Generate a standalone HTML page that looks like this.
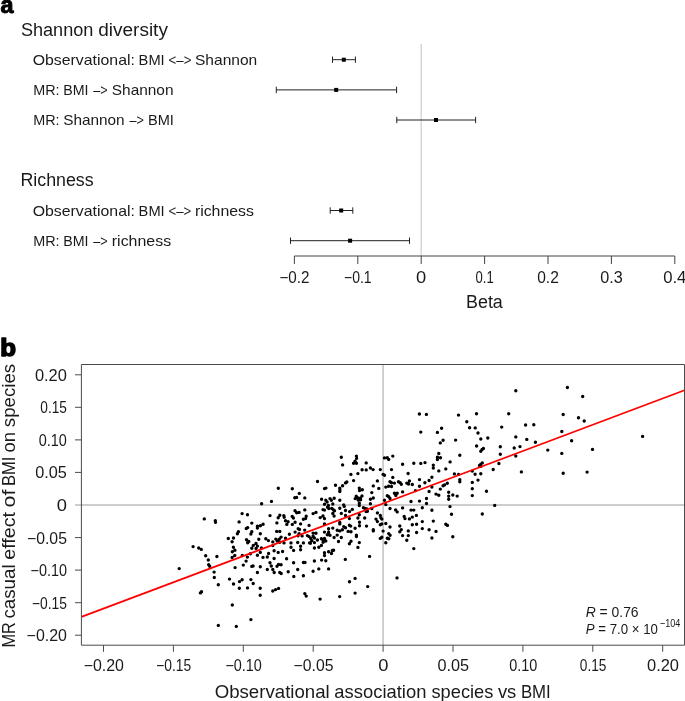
<!DOCTYPE html>
<html lang="en"><head><meta charset="utf-8"><title>Figure</title>
<style>
html,body{margin:0;padding:0;background:#fff}
svg{display:block}
text{font-family:"Liberation Sans",Arial,Helvetica,sans-serif;fill:#1a1a1a}
</style></head>
<body>
<svg width="685" height="701" viewBox="0 0 685 701">
<rect width="685" height="701" fill="#fff"/>
<text x="0.5" y="13.3" font-size="24" text-anchor="start" font-weight="bold" textLength="13.0" lengthAdjust="spacingAndGlyphs" style="fill:#000;stroke:#000;stroke-width:1.0;stroke-linejoin:round">a</text>
<text x="0.3" y="355.8" font-size="23.6" text-anchor="start" font-weight="bold" textLength="15.8" lengthAdjust="spacingAndGlyphs" style="fill:#000;stroke:#000;stroke-width:1.5;stroke-linejoin:round">b</text>
<text y="35.7" font-size="18"><tspan x="20.9" textLength="72.5" lengthAdjust="spacingAndGlyphs">Shannon</tspan> <tspan x="98.2" textLength="69.7" lengthAdjust="spacingAndGlyphs">diversity</tspan></text>
<text x="20.4" y="186.2" font-size="18" text-anchor="start" textLength="73.3" lengthAdjust="spacingAndGlyphs">Richness</text>
<text y="65.3" font-size="15"><tspan x="32.7" textLength="102.2" lengthAdjust="spacingAndGlyphs">Observational:</tspan> <tspan x="138.6" textLength="26.1" lengthAdjust="spacingAndGlyphs">BMI</tspan> <tspan x="168.6" textLength="22.8" lengthAdjust="spacingAndGlyphs">&lt;–&gt;</tspan> <tspan x="195.0" textLength="62.2" lengthAdjust="spacingAndGlyphs">Shannon</tspan></text>
<text y="95.4" font-size="15"><tspan x="33.2" textLength="26.4" lengthAdjust="spacingAndGlyphs">MR:</tspan> <tspan x="63.2" textLength="25.3" lengthAdjust="spacingAndGlyphs">BMI</tspan> <tspan x="93.2" textLength="14.5" lengthAdjust="spacingAndGlyphs">–&gt;</tspan> <tspan x="111.8" textLength="61.7" lengthAdjust="spacingAndGlyphs">Shannon</tspan></text>
<text y="125.3" font-size="15"><tspan x="33.2" textLength="26.4" lengthAdjust="spacingAndGlyphs">MR:</tspan> <tspan x="63.2" textLength="61.4" lengthAdjust="spacingAndGlyphs">Shannon</tspan> <tspan x="129.4" textLength="14.5" lengthAdjust="spacingAndGlyphs">–&gt;</tspan> <tspan x="148.0" textLength="25.9" lengthAdjust="spacingAndGlyphs">BMI</tspan></text>
<text y="216.3" font-size="15"><tspan x="32.7" textLength="102.2" lengthAdjust="spacingAndGlyphs">Observational:</tspan> <tspan x="138.6" textLength="26.1" lengthAdjust="spacingAndGlyphs">BMI</tspan> <tspan x="168.5" textLength="22.8" lengthAdjust="spacingAndGlyphs">&lt;–&gt;</tspan> <tspan x="194.9" textLength="59.0" lengthAdjust="spacingAndGlyphs">richness</tspan></text>
<text y="246.3" font-size="15"><tspan x="33.2" textLength="26.4" lengthAdjust="spacingAndGlyphs">MR:</tspan> <tspan x="63.2" textLength="25.3" lengthAdjust="spacingAndGlyphs">BMI</tspan> <tspan x="93.2" textLength="14.5" lengthAdjust="spacingAndGlyphs">–&gt;</tspan> <tspan x="111.8" textLength="59.3" lengthAdjust="spacingAndGlyphs">richness</tspan></text>
<line x1="421.2" y1="44" x2="421.2" y2="256" stroke="#d0d0d0" stroke-width="1.3"/>
<path d="M332.5 59.7H355.4M332.5 56.5V62.900000000000006M355.4 56.5V62.900000000000006" stroke="#222" stroke-width="1" fill="none"/>
<rect x="341.8" y="57.7" width="4" height="4" fill="#000"/>
<path d="M276.3 89.9H396.6M276.3 86.7V93.10000000000001M396.6 86.7V93.10000000000001" stroke="#222" stroke-width="1" fill="none"/>
<rect x="334.2" y="87.9" width="4" height="4" fill="#000"/>
<path d="M396.8 120.0H475.6M396.8 116.8V123.2M475.6 116.8V123.2" stroke="#222" stroke-width="1" fill="none"/>
<rect x="434.0" y="118.0" width="4" height="4" fill="#000"/>
<path d="M330.2 210.5H352.8M330.2 207.3V213.7M352.8 207.3V213.7" stroke="#222" stroke-width="1" fill="none"/>
<rect x="339.2" y="208.5" width="4" height="4" fill="#000"/>
<path d="M290.5 240.7H409.5M290.5 237.5V243.89999999999998M409.5 237.5V243.89999999999998" stroke="#222" stroke-width="1" fill="none"/>
<rect x="348.1" y="238.7" width="4" height="4" fill="#000"/>
<path d="M294.4 256H674.8M294.4 256V264M357.8 256V264M421.2 256V264M484.6 256V264M548.0 256V264M611.4 256V264M674.8 256V264" stroke="#444" stroke-width="1" fill="none"/>
<text x="294.4" y="283.0" font-size="16" text-anchor="middle" textLength="30.0" lengthAdjust="spacingAndGlyphs">−0.2</text>
<text x="357.8" y="283.0" font-size="16" text-anchor="middle" textLength="27.6" lengthAdjust="spacingAndGlyphs">−0.1</text>
<text x="421.2" y="283.0" font-size="16" text-anchor="middle" textLength="10.2" lengthAdjust="spacingAndGlyphs">0</text>
<text x="484.6" y="283.0" font-size="16" text-anchor="middle" textLength="18.2" lengthAdjust="spacingAndGlyphs">0.1</text>
<text x="548.0" y="283.0" font-size="16" text-anchor="middle" textLength="21.6" lengthAdjust="spacingAndGlyphs">0.2</text>
<text x="611.4" y="283.0" font-size="16" text-anchor="middle" textLength="22.5" lengthAdjust="spacingAndGlyphs">0.3</text>
<text x="674.8" y="283.0" font-size="16" text-anchor="middle" textLength="23.2" lengthAdjust="spacingAndGlyphs">0.4</text>
<text x="484.4" y="308.3" font-size="18" text-anchor="middle" textLength="36.8" lengthAdjust="spacingAndGlyphs">Beta</text>
<path d="M383.1 364.5V645.2M75.0 505.0H684.5" stroke="#bdbdbd" stroke-width="1.4" fill="none"/>
<path d="M204.3 518.9h0M215.3 520.8h0M215.5 522.2h0M242.1 513.6h0M247.5 514.7h0M239.1 521.9h0M246.3 528.5h0M247.7 527.6h0M238.4 531.8h0M237.4 533.8h0M228.3 538.5h0M233.5 538.0h0M232.1 541.8h0M246.5 539.7h0M248.8 541.5h0M247.7 542.7h0M193.1 546.6h0M198.7 548.0h0M201.3 549.4h0M233.4 547.3h0M234.9 550.2h0M232.3 551.8h0M205.7 555.8h0M216.9 556.5h0M234.8 555.5h0M232.1 557.4h0M242.3 555.5h0M208.3 560.0h0M247.4 557.1h0M246.1 561.1h0M208.7 564.8h0M209.7 566.2h0M243.3 565.1h0M235.1 567.6h0M179.2 568.6h0M214.1 572.1h0M214.3 577.5h0M229.5 579.1h0M239.5 581.6h0M242.1 579.8h0M233.5 584.0h0M218.3 584.7h0M239.3 588.2h0M247.5 587.9h0M200.4 592.9h0M201.5 591.7h0M232.3 605.0h0M218.3 625.4h0M236.3 626.4h0M278.3 488.2h0M292.3 488.8h0M299.3 493.4h0M294.8 497.7h0M296.6 497.4h0M304.8 497.9h0M271.5 501.4h0M261.6 503.8h0M304.8 509.9h0M295.0 510.8h0M296.7 512.7h0M299.1 512.4h0M270.0 515.6h0M279.8 515.2h0M278.2 517.7h0M283.8 515.6h0M284.2 517.3h0M292.2 516.4h0M293.4 518.0h0M306.2 516.2h0M305.6 518.6h0M303.4 519.2h0M317.5 481.5h0M350.9 474.4h0M357.9 473.6h0M353.6 480.6h0M345.5 482.9h0M346.8 482.0h0M335.5 485.3h0M342.6 485.8h0M324.5 488.6h0M325.9 488.1h0M339.8 488.2h0M339.9 490.0h0M339.8 491.5h0M359.3 488.1h0M359.5 490.6h0M362.3 489.7h0M362.0 496.0h0M356.2 496.3h0M355.2 498.6h0M358.0 497.9h0M360.4 498.2h0M358.2 500.0h0M360.6 499.8h0M321.6 499.3h0M325.8 500.2h0M327.1 502.0h0M330.0 498.6h0M331.3 500.2h0M334.2 498.3h0M339.8 500.2h0M324.5 504.2h0M332.8 504.0h0M343.7 504.9h0M344.2 506.4h0M359.3 503.3h0M359.3 505.5h0M328.4 505.5h0M327.5 507.2h0M328.8 508.5h0M331.9 508.5h0M333.6 509.9h0M334.5 510.7h0M323.0 509.6h0M324.5 510.1h0M339.8 508.3h0M345.5 510.5h0M352.3 509.4h0M349.6 511.6h0M363.4 507.7h0M365.2 508.5h0M366.9 509.0h0M366.1 511.6h0M367.4 511.2h0M316.0 512.4h0M313.1 513.6h0M332.8 513.4h0M341.3 513.4h0M334.1 516.0h0M345.5 515.4h0M359.3 514.7h0M323.0 516.0h0M320.2 517.6h0M324.5 518.6h0M349.4 518.6h0M357.9 518.0h0M364.7 518.0h0M251.8 523.1h0M257.4 526.1h0M257.4 528.1h0M260.3 525.7h0M263.1 524.2h0M276.9 522.9h0M285.5 520.7h0M288.1 521.8h0M286.8 524.4h0M292.3 524.4h0M295.1 522.2h0M300.6 523.9h0M309.1 525.4h0M251.8 531.8h0M250.9 534.0h0M260.3 533.8h0M276.7 531.4h0M279.8 531.4h0M298.2 528.8h0M299.5 529.5h0M304.7 530.1h0M295.1 532.1h0M289.4 534.2h0M299.1 533.6h0M298.0 535.8h0M302.1 535.9h0M307.4 535.6h0M309.1 536.6h0M258.8 539.3h0M265.8 538.8h0M268.4 540.6h0M281.1 537.1h0M275.8 539.1h0M279.3 539.1h0M277.2 541.0h0M285.5 538.2h0M272.8 541.9h0M279.8 542.3h0M284.0 542.9h0M291.0 542.9h0M297.7 542.5h0M303.4 542.9h0M309.6 542.9h0M256.0 543.5h0M253.3 545.4h0M257.4 546.1h0M251.8 548.2h0M256.1 548.5h0M261.4 548.0h0M272.8 545.6h0M291.0 547.2h0M300.6 546.3h0M300.6 549.8h0M293.6 550.4h0M274.1 550.8h0M278.2 552.4h0M282.6 551.5h0M260.3 552.4h0M268.6 553.5h0M257.4 555.3h0M250.4 553.7h0M263.0 557.4h0M267.3 557.0h0M274.1 558.5h0M286.6 558.8h0M270.0 562.7h0M293.6 562.7h0M303.4 562.5h0M305.0 562.5h0M253.1 566.0h0M251.8 566.4h0M260.3 566.7h0M271.3 566.0h0M278.5 564.5h0M277.0 566.2h0M281.1 564.8h0M267.3 569.5h0M272.8 569.5h0M297.7 569.5h0M339.8 522.5h0M339.8 523.9h0M324.5 523.9h0M359.5 522.2h0M359.5 525.7h0M349.4 525.3h0M350.7 526.1h0M366.5 526.1h0M343.7 526.6h0M345.5 527.7h0M355.1 528.3h0M332.8 528.1h0M328.6 528.8h0M337.2 530.3h0M339.8 530.9h0M342.4 529.8h0M348.1 531.4h0M351.0 531.8h0M324.5 532.1h0M328.6 532.3h0M313.1 533.1h0M316.0 533.3h0M327.3 534.7h0M330.0 535.3h0M337.2 535.1h0M356.4 535.3h0M356.4 536.6h0M313.1 536.2h0M314.4 538.0h0M310.9 538.8h0M311.8 540.6h0M310.4 543.2h0M317.4 540.0h0M321.4 538.8h0M324.5 538.4h0M323.1 540.6h0M325.8 541.0h0M323.1 542.3h0M334.1 537.5h0M341.3 537.5h0M338.5 541.5h0M351.0 541.2h0M349.4 543.8h0M359.3 542.6h0M314.4 542.6h0M321.4 545.4h0M318.8 547.3h0M314.4 548.0h0M357.9 547.4h0M333.6 550.2h0M332.3 550.5h0M328.6 551.7h0M331.5 553.5h0M324.5 552.8h0M324.5 555.5h0M369.6 556.4h0M345.3 559.4h0M314.4 561.0h0M321.6 560.1h0M325.8 560.7h0M318.8 568.9h0M328.6 568.9h0M341.3 457.2h0M342.6 464.9h0M356.4 456.1h0M356.6 458.3h0M355.1 461.2h0M353.6 463.2h0M356.4 463.2h0M366.2 462.9h0M362.1 469.8h0M366.2 469.9h0M420.8 432.1h0M392.8 456.1h0M384.5 457.9h0M387.3 457.7h0M388.7 459.4h0M402.6 464.2h0M413.8 463.2h0M420.8 463.4h0M425.0 462.6h0M370.4 468.0h0M373.1 469.6h0M380.3 469.6h0M391.5 469.6h0M383.1 474.4h0M384.5 475.3h0M408.1 473.5h0M392.8 477.4h0M377.4 480.9h0M419.5 479.6h0M429.1 480.5h0M390.0 481.8h0M391.5 482.7h0M394.4 483.1h0M398.5 481.8h0M400.2 482.7h0M401.3 484.2h0M409.4 480.9h0M406.8 483.1h0M408.5 484.0h0M412.3 484.5h0M424.9 482.7h0M373.3 485.9h0M378.8 488.4h0M385.8 487.1h0M388.6 486.2h0M391.5 486.5h0M419.5 486.2h0M371.8 492.6h0M402.6 491.9h0M394.4 493.2h0M397.2 493.2h0M395.8 495.4h0M415.5 490.6h0M429.1 491.5h0M387.3 495.8h0M388.8 496.7h0M390.0 498.5h0M373.3 498.0h0M370.4 499.3h0M384.5 500.2h0M426.5 498.5h0M411.0 501.5h0M419.5 501.1h0M370.4 503.7h0M385.8 504.6h0M426.5 503.5h0M371.8 508.5h0M390.0 508.5h0M402.6 507.9h0M422.3 507.7h0M395.6 509.9h0M397.2 511.9h0M411.0 510.1h0M413.8 510.1h0M377.4 512.9h0M380.3 515.4h0M416.4 515.4h0M404.2 516.4h0M412.3 517.1h0M380.9 517.7h0M376.0 519.1h0M381.8 519.1h0M405.0 518.6h0M409.4 518.9h0M438.8 470.9h0M472.3 471.1h0M454.4 473.9h0M458.5 474.4h0M475.1 474.2h0M480.8 473.7h0M431.9 477.2h0M459.8 479.8h0M459.8 481.8h0M478.0 480.1h0M472.3 482.4h0M447.3 483.3h0M443.1 485.8h0M444.5 484.9h0M431.9 487.1h0M440.3 489.1h0M472.3 488.8h0M486.5 491.2h0M448.7 492.3h0M436.0 494.1h0M438.8 495.2h0M452.8 495.0h0M448.7 496.1h0M457.2 496.1h0M472.3 495.6h0M448.7 499.2h0M450.0 506.6h0M431.9 510.3h0M451.5 514.2h0M482.3 514.0h0M377.4 521.6h0M380.3 524.8h0M381.8 523.9h0M385.8 523.5h0M422.3 521.6h0M412.3 524.8h0M416.6 524.2h0M399.8 526.0h0M390.0 527.0h0M373.3 529.8h0M373.3 530.9h0M383.1 531.1h0M401.3 529.6h0M399.8 531.8h0M408.3 530.9h0M422.3 528.6h0M429.1 529.8h0M416.6 532.5h0M388.7 533.6h0M390.1 535.3h0M402.6 535.6h0M408.3 535.6h0M380.3 538.4h0M381.8 537.3h0M387.3 538.2h0M388.8 538.8h0M406.8 540.3h0M385.8 542.8h0M413.8 548.6h0M433.3 521.1h0M445.8 524.2h0M447.5 525.4h0M436.0 531.4h0M431.9 538.0h0M452.8 536.8h0M466.8 421.8h0M441.6 428.3h0M469.6 427.7h0M475.2 427.9h0M437.4 432.4h0M478.0 433.0h0M487.8 438.0h0M480.8 439.0h0M443.1 440.3h0M455.6 440.1h0M440.3 442.9h0M476.6 446.0h0M483.4 448.5h0M482.1 449.5h0M480.8 451.3h0M438.8 453.5h0M459.8 455.3h0M437.4 457.2h0M440.5 457.7h0M437.4 459.6h0M450.1 461.9h0M433.3 465.1h0M433.3 468.0h0M482.3 462.9h0M480.8 464.2h0M479.5 465.5h0M480.8 466.4h0M445.8 468.9h0M419.4 414.0h0M426.4 414.4h0M458.5 415.1h0M476.5 413.7h0M515.8 390.8h0M567.4 387.5h0M582.7 396.5h0M508.7 413.8h0M563.2 414.5h0M578.5 417.8h0M584.2 421.0h0M501.7 427.1h0M525.6 425.0h0M533.8 424.7h0M561.8 431.5h0M515.8 436.9h0M526.8 439.4h0M535.4 442.2h0M571.6 440.8h0M500.3 446.7h0M514.2 448.0h0M520.0 446.6h0M547.8 450.1h0M592.5 449.4h0M500.3 454.3h0M515.8 456.0h0M561.8 453.4h0M498.9 463.5h0M493.2 469.5h0M521.4 471.9h0M563.2 473.3h0M587.1 472.1h0M494.7 505.4h0M642.6 436.4h0M257.4 572.5h0M274.2 572.5h0M279.8 572.5h0M281.2 573.5h0M288.2 571.8h0M313.1 571.2h0M293.8 576.5h0M303.4 575.8h0M250.9 579.6h0M253.2 583.5h0M260.2 588.2h0M260.2 595.2h0M272.8 591.0h0M275.6 589.6h0M278.6 588.4h0M304.8 593.6h0M306.2 596.1h0M320.1 599.1h0M339.7 596.6h0M349.5 581.7h0M355.1 578.4h0M355.1 593.1h0M367.7 586.6h0M250.9 619.6h0M397.0 577.9h0" stroke="#000" stroke-width="3.4" stroke-linecap="round" fill="none"/>
<line x1="81.4" y1="616.9" x2="684.5" y2="390.2" stroke="#ff0000" stroke-width="1.7"/>
<path d="M81.4 364.5H684.5V645.2H81.4ZM75.0 635.2H81.4M103.5 645.2V651.8M75.0 602.7H81.4M173.4 645.2V651.8M75.0 570.1H81.4M243.3 645.2V651.8M75.0 537.6H81.4M313.2 645.2V651.8M383.1 645.2V651.8M75.0 472.4H81.4M453.0 645.2V651.8M75.0 439.9H81.4M522.9 645.2V651.8M75.0 407.3H81.4M592.8 645.2V651.8M75.0 374.8H81.4M662.7 645.2V651.8" stroke="#4a4a4a" stroke-width="1" fill="none"/>
<text x="66.9" y="641.1" font-size="16" text-anchor="end" textLength="40.3" lengthAdjust="spacingAndGlyphs">−0.20</text>
<text x="103.8" y="670.8" font-size="16" text-anchor="middle" textLength="40.3" lengthAdjust="spacingAndGlyphs">−0.20</text>
<text x="66.9" y="608.6" font-size="16" text-anchor="end" textLength="34.9" lengthAdjust="spacingAndGlyphs">−0.15</text>
<text x="173.7" y="670.8" font-size="16" text-anchor="middle" textLength="34.9" lengthAdjust="spacingAndGlyphs">−0.15</text>
<text x="66.9" y="576.0" font-size="16" text-anchor="end" textLength="36.4" lengthAdjust="spacingAndGlyphs">−0.10</text>
<text x="243.6" y="670.8" font-size="16" text-anchor="middle" textLength="36.4" lengthAdjust="spacingAndGlyphs">−0.10</text>
<text x="66.9" y="543.5" font-size="16" text-anchor="end" textLength="39.9" lengthAdjust="spacingAndGlyphs">−0.05</text>
<text x="313.5" y="670.8" font-size="16" text-anchor="middle" textLength="39.9" lengthAdjust="spacingAndGlyphs">−0.05</text>
<text x="66.9" y="510.9" font-size="16" text-anchor="end" textLength="10.2" lengthAdjust="spacingAndGlyphs">0</text>
<text x="383.4" y="670.8" font-size="16" text-anchor="middle" textLength="10.2" lengthAdjust="spacingAndGlyphs">0</text>
<text x="66.9" y="478.3" font-size="16" text-anchor="end" textLength="31.6" lengthAdjust="spacingAndGlyphs">0.05</text>
<text x="453.3" y="670.8" font-size="16" text-anchor="middle" textLength="31.6" lengthAdjust="spacingAndGlyphs">0.05</text>
<text x="66.9" y="445.8" font-size="16" text-anchor="end" textLength="28.1" lengthAdjust="spacingAndGlyphs">0.10</text>
<text x="523.2" y="670.8" font-size="16" text-anchor="middle" textLength="28.1" lengthAdjust="spacingAndGlyphs">0.10</text>
<text x="66.9" y="413.2" font-size="16" text-anchor="end" textLength="26.6" lengthAdjust="spacingAndGlyphs">0.15</text>
<text x="593.1" y="670.8" font-size="16" text-anchor="middle" textLength="26.6" lengthAdjust="spacingAndGlyphs">0.15</text>
<text x="66.9" y="380.7" font-size="16" text-anchor="end" textLength="32.0" lengthAdjust="spacingAndGlyphs">0.20</text>
<text x="663.0" y="670.8" font-size="16" text-anchor="middle" textLength="32.0" lengthAdjust="spacingAndGlyphs">0.20</text>
<text y="0.0" font-size="18.2" transform="translate(15.3 646.6) rotate(-90)"><tspan x="-0.9" textLength="25.4" lengthAdjust="spacingAndGlyphs">MR</tspan> <tspan x="28.0" textLength="54.2" lengthAdjust="spacingAndGlyphs">casual</tspan> <tspan x="86.9" textLength="47.8" lengthAdjust="spacingAndGlyphs">effect</tspan> <tspan x="139.1" textLength="17.9" lengthAdjust="spacingAndGlyphs">of</tspan> <tspan x="160.5" textLength="29.6" lengthAdjust="spacingAndGlyphs">BMI</tspan> <tspan x="194.1" textLength="20.6" lengthAdjust="spacingAndGlyphs">on</tspan> <tspan x="219.4" textLength="63.4" lengthAdjust="spacingAndGlyphs">species</tspan></text>
<text y="697.6" font-size="18.2"><tspan x="214.7" textLength="115.0" lengthAdjust="spacingAndGlyphs">Observational</tspan> <tspan x="334.3" textLength="92.1" lengthAdjust="spacingAndGlyphs">association</tspan> <tspan x="431.5" textLength="61.8" lengthAdjust="spacingAndGlyphs">species</tspan> <tspan x="497.9" textLength="18.4" lengthAdjust="spacingAndGlyphs">vs</tspan> <tspan x="520.9" textLength="29.9" lengthAdjust="spacingAndGlyphs">BMI</tspan></text>
<text x="585.7" y="616.9" font-size="15" textLength="52.9" lengthAdjust="spacingAndGlyphs"><tspan font-style="italic">R</tspan> = 0.76</text>
<text x="585.7" y="633.9" font-size="15" textLength="72.2" lengthAdjust="spacingAndGlyphs"><tspan font-style="italic">P</tspan> = 7.0 × 10</text>
<text x="660.0" y="627.3" font-size="11.4" text-anchor="start" textLength="20.4" lengthAdjust="spacingAndGlyphs">−104</text>
</svg>
</body></html>
